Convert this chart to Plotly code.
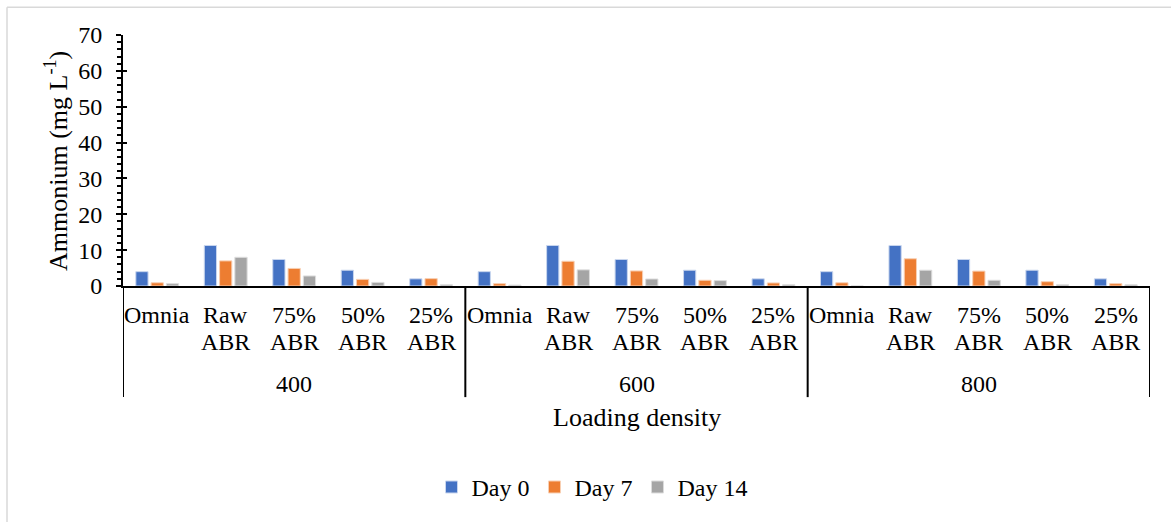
import plotly.graph_objects as go

groups = ["400", "600", "800"]
treatments = ["Omnia", "Raw<br>ABR", "75%<br>ABR", "50%<br>ABR", "25%<br>ABR"]
series_names = ["Day 0", "Day 7", "Day 14"]
colors = ["#4472C4", "#ED7D31", "#A5A5A5"]
edge_colors = ["#C9D6EE", "#F8CFB3", "#DCDCDC"]

day0 = [4.0, 11.3, 7.4, 4.4, 2.0,
        4.0, 11.3, 7.4, 4.4, 2.0,
        4.0, 11.3, 7.4, 4.4, 2.0]
day7 = [0.9, 7.0, 4.9, 1.85, 2.05,
        0.65, 6.9, 4.2, 1.6, 0.85,
        0.9, 7.6, 4.15, 1.2, 0.65]
day14 = [0.65, 8.0, 2.8, 1.0, 0.35,
         0.25, 4.5, 1.95, 1.5, 0.35,
         0.0, 4.4, 1.6, 0.35, 0.35]
values = [day0, day7, day14]

FONT = "'Liberation Serif', 'Times New Roman', Times, serif"
FS = 24
W, H = 1171, 522
L, R, T, B = 123, 21, 35, 234
pw, ph = W - L - R, H - T - B

def px_x(px):
    return (px - L) / pw

def px_y(py):
    return (H - B - py) / ph

def fnt(size=FS):
    return dict(family=FONT, size=size, color="black")

n = len(groups) * len(treatments)
xs = list(range(n))
ticktext = treatments * len(groups)

fig = go.Figure()
for name, vals, c, ec in zip(series_names, values, colors, edge_colors):
    fig.add_trace(go.Bar(x=xs, y=vals, name=name,
                         marker=dict(color=c, line=dict(width=1, color=ec))))

fig.update_layout(
    width=W, height=H,
    margin=dict(l=L, r=R, t=T, b=B),
    paper_bgcolor="white", plot_bgcolor="white",
    barmode="group", bargap=0.33, bargroupgap=0.2,
    font=fnt(),
    showlegend=True,
    legend=dict(orientation="h", x=px_x(592), xanchor="center", y=px_y(491), yanchor="middle",
                font=fnt(24), itemwidth=30, traceorder="normal"),
    xaxis=dict(range=[-0.5, n - 0.5], tickmode="array", tickvals=xs, showticklabels=False,
               showline=True, linecolor="black", linewidth=2, ticks="", showgrid=False,
               zeroline=False, fixedrange=True),
    yaxis=dict(range=[0, 70], dtick=10, showline=True, linecolor="black", linewidth=2,
               ticks="outside", ticklen=5, tickwidth=2, tickcolor="black",
               minor=dict(dtick=2, ticks="outside", ticklen=4, tickwidth=1.5, tickcolor="black"),
               showgrid=False, zeroline=False, tickfont=fnt(24), ticklabelstandoff=9),
    yaxis2=dict(range=[0, 70], dtick=10, overlaying="y", side="left", showline=False,
                ticks="inside", ticklen=4, tickwidth=2, tickcolor="black",
                showticklabels=False, showgrid=False, zeroline=False),
)

# invisible trace to attach yaxis2
fig.add_trace(go.Scatter(x=[0], y=[0], yaxis="y2", mode="markers", marker=dict(opacity=0),
                         showlegend=False, hoverinfo="skip"))

# category labels (two lines, tight spacing)
for i, t in zip(xs, ticktext):
    lines = t.split("<br>")
    for j, ln in enumerate(lines):
        fig.add_annotation(x=i, y=px_y(317 + 27 * j), xref="x", yref="paper", text=ln,
                           showarrow=False, font=fnt(24), yanchor="middle")

# group dividers
gsize = len(treatments)
for k in range(len(groups) + 1):
    xv = k * gsize - 0.5
    fig.add_shape(type="line", xref="x", yref="paper", x0=xv, x1=xv, y0=0, y1=px_y(400),
                  line=dict(color="black", width=2))

# group labels
for k, g in enumerate(groups):
    fig.add_annotation(x=k * gsize + (gsize - 1) / 2, y=px_y(387), xref="x", yref="paper",
                       text=g, showarrow=False, font=fnt(24), yanchor="middle")

# axis titles
fig.add_annotation(x=px_x(637), y=px_y(421), xref="paper", yref="paper", text="Loading density",
                   showarrow=False, font=fnt(26), yanchor="middle")
fig.add_annotation(x=px_x(57), y=px_y(162), xref="paper", yref="paper",
                   text="Ammonium (mg L<sup>-1</sup>)", textangle=-90,
                   showarrow=False, font=fnt(26), xanchor="center", yanchor="middle")

# chart border
fig.add_shape(type="line", xref="paper", yref="paper", x0=px_x(7), x1=px_x(1200), y0=px_y(7), y1=px_y(7),
              line=dict(color="#D9D9D9", width=1.5))
fig.add_shape(type="line", xref="paper", yref="paper", x0=px_x(7), x1=px_x(7), y0=px_y(7), y1=px_y(540),
              line=dict(color="#D9D9D9", width=1.5))

fig.write_html("out.html")
